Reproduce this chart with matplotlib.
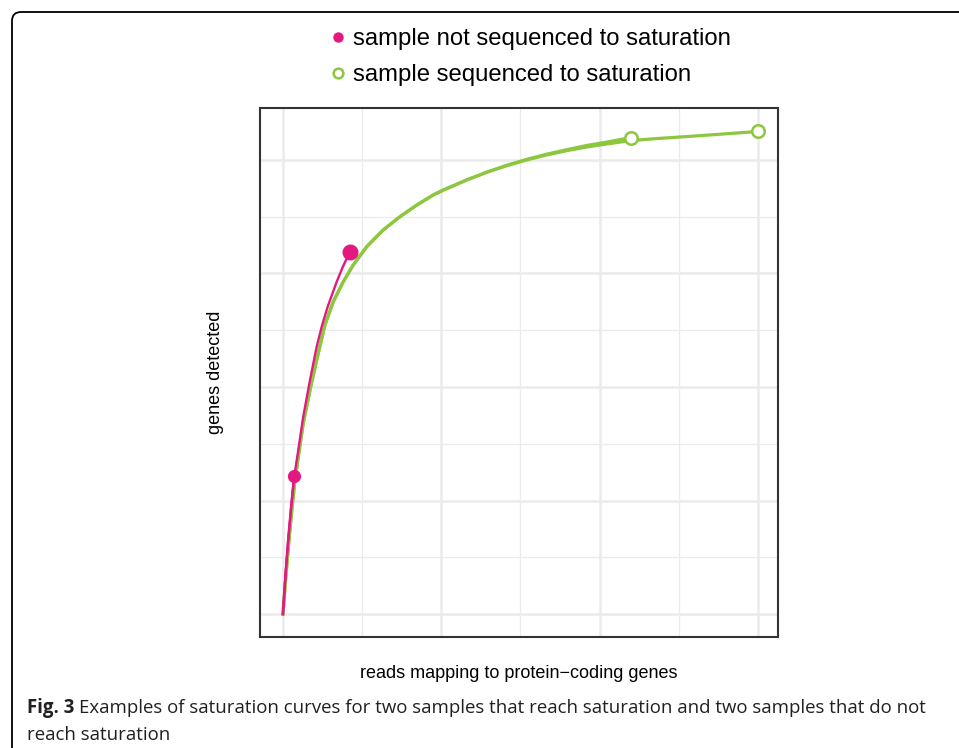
import numpy as np
import matplotlib.pyplot as plt
from matplotlib.lines import Line2D
from matplotlib.patches import FancyBboxPatch
from matplotlib.ticker import MultipleLocator

# reads (millions) / genes detected
pink_a_x = [0, 0.16, 0.33, 0.51, 0.70]
pink_a_y = [0, 1374, 2608, 3735, 4846]

pink_b_x = [0, 0.16, 0.33, 0.51, 0.71, 0.97, 1.28, 1.71, 2.13, 2.46, 2.84, 3.39, 3.79, 4.23]
pink_b_y = [0, 1374, 2608, 3735, 4838, 5779, 6953, 8246, 9420, 10149, 10854, 11700, 12246, 12767]

green_c_x = [0, 0.19, 0.38, 0.57, 0.76, 0.97, 1.28, 1.71, 2.13, 2.65, 3.18, 3.81, 4.44,
             5.29, 6.33, 7.39, 8.45, 9.49, 10.13, 11.60, 12.87, 14.13, 15.39, 16.66,
             17.92, 19.19, 20.45, 21.98]
green_c_y = [0, 1374, 2608, 3735, 4722, 5543, 6720, 7894, 8951, 10184, 11005, 11710, 12299,
             12944, 13532, 14001, 14411, 14764, 14940, 15294, 15570, 15810, 16020, 16205,
             16360, 16510, 16630, 16790]

green_d_x = [0, 0.19, 0.38, 0.57, 0.76, 0.97, 1.28, 1.71, 2.13, 2.65, 3.18, 3.81, 4.44,
             5.29, 6.33, 7.39, 8.45, 9.49, 10.13, 11.60, 12.87, 14.13, 15.39, 16.66,
             17.92, 19.19, 20.45, 21.92, 23.50, 25.08, 26.66, 28.24, 30.0]
green_d_y = [0, 1374, 2608, 3735, 4722, 5543, 6720, 7894, 8951, 10184, 11005, 11710, 12299,
             12944, 13532, 14001, 14411, 14764, 14940, 15294, 15565, 15798, 15999, 16175,
             16327, 16457, 16563, 16679, 16750, 16809, 16869, 16933, 17003]

legend_labels = ['sample not sequenced to saturation', 'sample sequenced to saturation']

pink = '#E2197F'
green = '#8DC63F'

fig = plt.figure(figsize=(9.59, 7.48), dpi=100)
W, H = 959, 748

ax = fig.add_axes([260 / W, 1 - 637 / H, 518 / W, 529 / H])
ax.set_xlim(-1.45, 31.27)
ax.set_ylim(-810, 17831)

ax.xaxis.set_major_locator(MultipleLocator(10))
ax.xaxis.set_minor_locator(MultipleLocator(5))
ax.yaxis.set_major_locator(MultipleLocator(4000))
ax.yaxis.set_minor_locator(MultipleLocator(2000))
ax.grid(which='major', color='#EBEBEB', lw=1.8)
ax.grid(which='minor', color='#EBEBEB', lw=0.9)
ax.set_axisbelow(True)
ax.tick_params(which='both', length=0, labelbottom=False, labelleft=False)
for s in ax.spines.values():
    s.set_color('#333333')
    s.set_linewidth(1.5)

ax.plot(green_d_x, green_d_y, color=green, lw=2.3, zorder=2, solid_joinstyle='round')
ax.plot(green_c_x, green_c_y, color=green, lw=2.3, zorder=2, solid_joinstyle='round')
ax.plot(pink_b_x, pink_b_y, color=pink, lw=1.7, zorder=3, solid_joinstyle='round')
ax.plot(pink_a_x, pink_a_y, color=pink, lw=1.7, zorder=3, solid_joinstyle='round')

ax.plot(pink_a_x[-1], pink_a_y[-1], 'o', color=pink, ms=8.5, zorder=4)
ax.plot(pink_b_x[-1], pink_b_y[-1], 'o', color=pink, ms=10.5, zorder=4)
ax.plot(green_c_x[-1], green_c_y[-1], 'o', mfc='white', mec=green, mew=1.8, ms=9, zorder=4)
ax.plot(green_d_x[-1], green_d_y[-1], 'o', mfc='white', mec=green, mew=1.8, ms=9, zorder=4)

ax.set_xlabel('reads mapping to protein\u2212coding genes', fontsize=13,
              family='Liberation Sans', labelpad=20)
ax.set_ylabel('genes detected', fontsize=13, family='Liberation Sans', labelpad=26)

# legend on top
fig.add_artist(Line2D([338 / W], [1 - 37 / H], marker='o', color=pink, ms=6.5,
                      transform=fig.transFigure))
fig.add_artist(Line2D([338 / W], [1 - 73 / H], marker='o', mfc='white', mec=green,
                      mew=1.8, ms=7, transform=fig.transFigure))
fig.text(353 / W, 1 - 39 / H, legend_labels[0], fontsize=17.2, family='Liberation Sans',
         va='center', ha='left')
fig.text(353 / W, 1 - 75 / H, legend_labels[1], fontsize=17.2, family='Liberation Sans',
         va='center', ha='left')

# frame around figure
box = FancyBboxPatch((0.12, -0.5), 10, 7.36 + 0.5, boxstyle='round,pad=0,rounding_size=0.09',
                     transform=fig.dpi_scale_trans, fill=False, ec='black', lw=1.3)
fig.add_artist(box)

# caption
cap_font = 'Open Sans'
cap_size = 13.44
t1 = fig.text(27 / W, 1 - 708 / H, 'Fig. 3', fontsize=cap_size, weight='bold',
              family=cap_font, color='#231F20', va='center', ha='left')
fig.canvas.draw()
bb = t1.get_window_extent()
fig.text(bb.x1 / W + 5 / W, 1 - 708 / H,
         'Examples of saturation curves for two samples that reach saturation and two samples that do not',
         fontsize=cap_size, family=cap_font, color='#231F20', va='center', ha='left')
fig.text(27 / W, 1 - 735 / H, 'reach saturation', fontsize=cap_size, family=cap_font,
         color='#231F20', va='center', ha='left')

fig.savefig('out.png', dpi=100)
